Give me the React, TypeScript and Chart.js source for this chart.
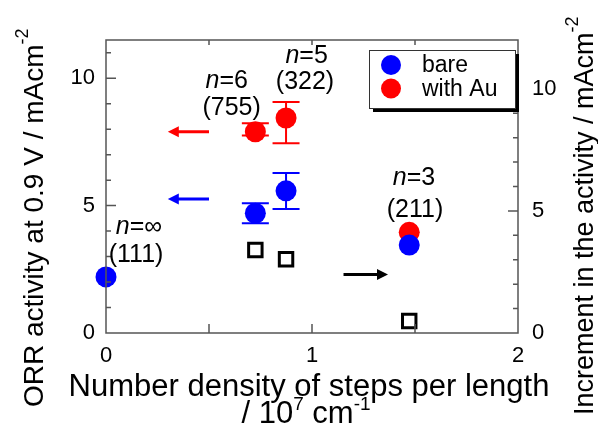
import React, { useEffect, useRef } from "react";
import { Chart, registerables } from "chart.js";
Chart.register(...registerables);

// ---- data ----
const bareX = [0, 0.725, 0.874, 1.472];
const bareY = [2.2, 4.7, 5.58, 3.45];
const bareErrLow = [null, 4.31, 4.87, null];
const bareErrHigh = [null, 5.09, 6.28, null];

const auX = [0.725, 0.874, 1.472];
const auY = [7.9, 8.44, 3.95];
const auErrLow = [7.75, 7.45, null];
const auErrHigh = [8.23, 9.07, null];

const incX = [0.725, 0.874, 1.472];
const incY = [3.4, 3.02, 0.49];

const seriesLabels = ["bare", "with Au", "increment"];
const xTickValues = [0, 1, 2];
const leftTickValues = [0, 5, 10];
const rightTickValues = [0, 5, 10];

// annotation labels (italic part + normal part)
const annoItalic = ["n", "", "n", "", "n", "", "n", ""];
const annoText = ["=∞", "(111)", "=6", "(755)", "=5", "(322)", "=3", "(211)"];
const annoX = [0.16, 0.146, 0.586, 0.61, 0.974, 0.966, 1.495, 1.5];
const annoY = [4.14, 3.06, 9.9, 8.81, 10.87, 9.86, 6.08, 4.83];

// arrows
const arrowFromX = [0.5, 0.5, 1.153];
const arrowToX = [0.3, 0.3, 1.369];
const arrowY = [7.9, 5.26, 2.4];
const arrowAxis = ["y", "y", "y2"];
const arrowColor = ["#ff0000", "#0000ff", "#000000"];

const FONT = '"Liberation Sans", Arial, Helvetica, sans-serif';
const BLUE = "#0000ff";
const RED = "#ff0000";
const FRAME = "#555555";

type Part = { text: string; size: number; italic?: boolean; dy?: number };

function richWidth(ctx: CanvasRenderingContext2D, parts: Part[]) {
  let w = 0;
  for (const p of parts) {
    ctx.font = `${p.italic ? "italic " : ""}${p.size}px ${FONT}`;
    w += ctx.measureText(p.text).width;
  }
  return w;
}

function drawRich(ctx: CanvasRenderingContext2D, parts: Part[], x: number, y: number, align: "left" | "center") {
  let cx = align === "center" ? x - richWidth(ctx, parts) / 2 : x;
  ctx.textAlign = "left";
  for (const p of parts) {
    ctx.font = `${p.italic ? "italic " : ""}${p.size}px ${FONT}`;
    ctx.fillText(p.text, cx, y + (p.dy || 0));
    cx += ctx.measureText(p.text).width;
  }
}

const customPlugin = {
  id: "customDecor",
  beforeDatasetsDraw(chart: any) {
    const { ctx, scales } = chart;
    const x = scales.x, y = scales.y;
    const drawErr = (xs: number[], lows: (number | null)[], highs: (number | null)[], color: string) => {
      ctx.save();
      ctx.strokeStyle = color;
      ctx.lineWidth = 2;
      xs.forEach((xv, i) => {
        const lo = lows[i], hi = highs[i];
        if (lo == null || hi == null) return;
        const px = x.getPixelForValue(xv);
        const p1 = y.getPixelForValue(lo);
        const p2 = y.getPixelForValue(hi);
        ctx.beginPath();
        ctx.moveTo(px, p1); ctx.lineTo(px, p2);
        ctx.moveTo(px - 13.5, p1); ctx.lineTo(px + 13.5, p1);
        ctx.moveTo(px - 13.5, p2); ctx.lineTo(px + 13.5, p2);
        ctx.stroke();
      });
      ctx.restore();
    };
    drawErr(auX, auErrLow, auErrHigh, RED);
    drawErr(bareX, bareErrLow, bareErrHigh, BLUE);
  },
  afterDatasetsDraw(chart: any) {
    const { ctx, chartArea: a, scales } = chart;
    const x = scales.x, y = scales.y, y2 = scales.y2;
    ctx.save();
    // frame
    ctx.strokeStyle = FRAME;
    ctx.lineWidth = 1.5;
    ctx.strokeRect(a.left, a.top, a.right - a.left, a.bottom - a.top);
    // ticks
    ctx.beginPath();
    for (let v = 1; v <= 11; v++) {
      const py = y.getPixelForValue(v);
      const len = v % 5 === 0 ? 10 : 5;
      ctx.moveTo(a.left, py); ctx.lineTo(a.left + len, py);
    }
    for (let v = 1; v <= 11; v++) {
      const py = y2.getPixelForValue(v);
      const len = v % 5 === 0 ? 10 : 5;
      ctx.moveTo(a.right, py); ctx.lineTo(a.right - len, py);
    }
    for (let v = 0.5; v < 2; v += 0.5) {
      const px = x.getPixelForValue(v);
      ctx.moveTo(px, a.bottom); ctx.lineTo(px, a.bottom - 9);
      ctx.moveTo(px, a.top); ctx.lineTo(px, a.top + 5);
    }
    ctx.stroke();

    // arrows
    arrowFromX.forEach((fx, i) => {
      const sc = scales[arrowAxis[i]];
      const py = sc.getPixelForValue(arrowY[i]);
      const x1 = x.getPixelForValue(fx);
      const x2 = x.getPixelForValue(arrowToX[i]);
      const dir = Math.sign(x2 - x1);
      const head = 11;
      ctx.strokeStyle = arrowColor[i];
      ctx.fillStyle = arrowColor[i];
      ctx.lineWidth = 3;
      ctx.beginPath();
      ctx.moveTo(x1, py); ctx.lineTo(x2 - dir * head * 0.8, py);
      ctx.stroke();
      ctx.beginPath();
      ctx.moveTo(x2, py);
      ctx.lineTo(x2 - dir * head, py - 5.5);
      ctx.lineTo(x2 - dir * head, py + 5.5);
      ctx.closePath();
      ctx.fill();
    });

    // annotations
    ctx.fillStyle = "#000";
    ctx.textBaseline = "middle";
    annoText.forEach((t, i) => {
      const parts: Part[] = [];
      if (annoItalic[i]) parts.push({ text: annoItalic[i], size: 25, italic: true });
      parts.push({ text: t, size: 25 });
      drawRich(ctx, parts, x.getPixelForValue(annoX[i]), y.getPixelForValue(annoY[i]), "center");
    });

    // legend
    const lx = 369, ly = 50, lw = 146, lh = 58;
    ctx.fillStyle = "#000";
    ctx.fillRect(lx + 4, ly + 4, lw, lh);
    ctx.fillStyle = "#fff";
    ctx.fillRect(lx, ly, lw, lh);
    ctx.strokeStyle = "#333";
    ctx.lineWidth = 1;
    ctx.strokeRect(lx + 0.5, ly + 0.5, lw, lh);
    const ds = chart.data.datasets;
    [0, 1].forEach((k) => {
      const cy = ly + 15 + k * 23.5;
      ctx.fillStyle = ds[k].backgroundColor;
      ctx.beginPath();
      ctx.arc(lx + 22, cy, 10, 0, Math.PI * 2);
      ctx.fill();
      ctx.fillStyle = "#000";
      ctx.font = `23px ${FONT}`;
      ctx.textAlign = "left";
      ctx.textBaseline = "middle";
      ctx.fillText(ds[k].label, lx + 53, cy + 1);
    });
    ctx.restore();
  },
  afterDraw(chart: any) {
    const { ctx } = chart;
    ctx.save();
    ctx.fillStyle = "#000";
    ctx.textBaseline = "alphabetic";
    // x title
    drawRich(ctx, [{ text: "Number density of steps per length", size: 31 }], 309, 396, "center");
    drawRich(
      ctx,
      [
        { text: "/ 10", size: 31 },
        { text: "7", size: 19, dy: -13 },
        { text: " cm", size: 31 },
        { text: "-1", size: 19, dy: -13 },
      ],
      306,
      423,
      "center"
    );
    // left title
    ctx.save();
    ctx.translate(43, 407);
    ctx.rotate(-Math.PI / 2);
    drawRich(
      ctx,
      [
        { text: "ORR activity at 0.9 V / mAcm", size: 28 },
        { text: "-2", size: 18, dy: -15 },
      ],
      0,
      0,
      "left"
    );
    ctx.restore();
    // right title
    ctx.save();
    ctx.translate(593, 415);
    ctx.rotate(-Math.PI / 2);
    drawRich(
      ctx,
      [
        { text: "Increment in the activity / mAcm", size: 27 },
        { text: "-2", size: 18, dy: -15 },
      ],
      0,
      0,
      "left"
    );
    ctx.restore();
    ctx.restore();
  },
};

export default function App() {
  const ref = useRef<HTMLCanvasElement>(null);
  useEffect(() => {
    if (!ref.current) return;
    const tickFont = { family: FONT, size: 22 };
    const chart = new Chart(ref.current, {
      type: "scatter",
      data: {
        datasets: [
          {
            label: seriesLabels[0],
            data: bareX.map((v, i) => ({ x: v, y: bareY[i] })),
            backgroundColor: BLUE,
            borderWidth: 0,
            pointRadius: 10.5,
            clip: false,
            yAxisID: "y",
          },
          {
            label: seriesLabels[1],
            data: auX.map((v, i) => ({ x: v, y: auY[i] })),
            backgroundColor: RED,
            borderWidth: 0,
            pointRadius: 10.5,
            clip: false,
            yAxisID: "y",
          },
          {
            label: seriesLabels[2],
            data: incX.map((v, i) => ({ x: v, y: incY[i] })),
            backgroundColor: "#ffffff",
            borderColor: "#000000",
            borderWidth: 3,
            pointStyle: "rect",
            pointRadius: 9.5,
            clip: false,
            yAxisID: "y2",
          },
        ],
      },
      options: {
        responsive: false,
        animation: false,
        devicePixelRatio: 1,
        layout: { padding: { top: 40, left: 0, right: 0, bottom: 0 } },
        plugins: { legend: { display: false }, tooltip: { enabled: false } },
        scales: {
          x: {
            type: "linear",
            position: "bottom",
            min: 0,
            max: 2,
            grid: { display: false, drawTicks: false },
            border: { display: false },
            ticks: { font: tickFont, color: "#000", padding: 10, autoSkip: false, maxRotation: 0 },
            afterBuildTicks: (s: any) => {
              s.ticks = xTickValues.map((v) => ({ value: v }));
            },
            afterFit: (s: any) => {
              s.height = 94;
            },
          },
          y: {
            type: "linear",
            position: "left",
            min: 0,
            max: 11.5,
            grid: { display: false, drawTicks: false },
            border: { display: false },
            ticks: { font: tickFont, color: "#000", padding: 11, autoSkip: false },
            afterBuildTicks: (s: any) => {
              s.ticks = leftTickValues.map((v) => ({ value: v }));
            },
            afterFit: (s: any) => {
              s.width = 106;
            },
          },
          y2: {
            type: "linear",
            position: "right",
            min: 0,
            max: 12,
            grid: { display: false, drawTicks: false },
            border: { display: false },
            ticks: { font: tickFont, color: "#000", padding: 14, autoSkip: false },
            afterBuildTicks: (s: any) => {
              s.ticks = rightTickValues.map((v) => ({ value: v }));
            },
            afterFit: (s: any) => {
              s.width = 80;
            },
          },
        },
      } as any,
      plugins: [customPlugin as any],
    });
    return () => chart.destroy();
  }, []);
  return (
    <div style={{ position: "absolute", left: 0, top: 0, width: 598, height: 427, background: "#fff" }}>
      <canvas ref={ref} width={598} height={427} style={{ display: "block", width: 598, height: 427 }} />
    </div>
  );
}
